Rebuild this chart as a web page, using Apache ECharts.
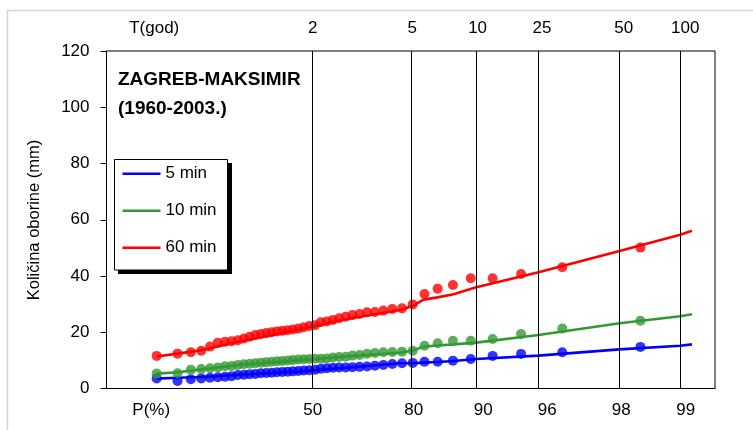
<!DOCTYPE html>
<html>
<head>
<meta charset="utf-8">
<script src="https://cdn.jsdelivr.net/npm/echarts@6/dist/echarts.min.js"></script>
<style>
html,body{margin:0;padding:0;background:#fff;}
#c{width:753px;height:430px;}
</style>
</head>
<body>
<div id="c"></div>
<script>
// Gumbel reduced variate of each plotting position
const plotPos = [-1.423,-1.183,-1.030,-0.910,-0.809,-0.719,-0.637,-0.561,-0.489,-0.420,-0.353,-0.288,-0.224,-0.162,-0.100,-0.039,0.022,0.084,0.145,0.207,0.270,0.334,0.399,0.466,0.534,0.604,0.676,0.751,0.829,0.911,0.997,1.088,1.185,1.288,1.400,1.523,1.658,1.810,1.985,2.190,2.442,2.769,3.243,4.142];
const obs5  = [3.6,2.7,3.3,3.6,3.8,4.0,4.2,4.4,4.8,4.9,5.1,5.2,5.4,5.5,5.6,5.8,5.9,6.0,6.1,6.2,6.4,6.5,6.7,7.0,7.2,7.4,7.5,7.5,7.6,7.7,7.8,8.1,8.4,8.7,9.0,9.1,9.5,9.5,9.9,10.5,11.6,12.3,12.9,14.8];
const obs10 = [5.3,5.4,6.7,6.9,7.2,7.5,7.9,8.0,8.4,8.6,8.8,9.0,9.2,9.3,9.5,9.7,9.8,10.0,10.1,10.3,10.4,10.5,10.6,10.6,10.7,11.0,11.2,11.3,11.7,11.9,12.4,12.6,12.9,13.0,13.1,13.4,15.2,16.1,17.0,17.0,17.6,19.4,21.3,24.1];
const obs60 = [11.6,12.4,12.9,13.4,14.9,16.3,16.6,16.8,17.2,17.8,18.4,19.0,19.4,19.7,20.0,20.3,20.5,20.7,21.0,21.3,21.8,22.2,22.5,23.6,23.8,24.4,25.0,25.5,26.1,26.5,27.1,27.2,27.7,28.3,28.5,29.9,33.6,35.5,36.8,39.2,39.2,40.7,43.1,50.1];

// fitted curves (vertices)
const fitX   = [-1.423,-1.183,-0.910,-0.485,0.228,0.746,1.379,1.525,1.647,1.808,1.992,2.253,2.970,3.902,4.600,4.735];
const fit5   = [3.5,3.8,4.1,4.9,6.0,7.4,9.0,9.0,9.2,9.4,9.8,10.5,11.7,13.9,15.2,15.7];
const fit10  = [5.3,5.8,6.8,8.3,10.0,11.4,12.7,13.5,14.9,15.3,15.7,16.3,19.0,23.2,25.7,26.4];
const fit60  = [11.4,12.4,13.6,16.6,21.0,24.6,27.9,29.4,31.6,32.4,33.5,36.0,41.3,48.9,54.7,56.1];

const seriesNames = ['5 min','10 min','60 min'];
const probGrid = [50,80,90,95,98,99];          // probability of each vertical line (%)
const pLabels  = ['50','80','90','96','98','99'];
const tLabels  = ['2','5','10','25','50','100'];
const yTicks   = [0,20,40,60,80,100,120];

const gum = p => -Math.log(-Math.log(p/100));
const gridX = probGrid.map(gum);
// label centres, slightly shifted to the right as in the picture
const botLabelPos = [-1.486,0.372,1.534,2.334,3.070,3.921,4.664];
const topLabelPos = [-1.451,0.372,1.517,2.269,3.010,3.951,4.658];
const botText = ['P(%)'].concat(pLabels);
const topText = ['T(god)'].concat(tLabels);
function pick(arr, txt){ return function(v){ let b=0,d=1e9; arr.forEach((a,i)=>{const e=Math.abs(a-v); if(e<d){d=e;b=i;}}); return txt[b]; }; }

const colors = ['#0000FF','#339933','#FF0000'];
const obs = [obs5,obs10,obs60];
const fits = [fit5,fit10,fit60];
const FONT = '"Liberation Sans", Arial, sans-serif';

const series = [];
series.push({
  type:'line', name:'grid', data:[], silent:true, z:1,
  markLine:{silent:true, symbol:['none','none'], label:{show:false},
    lineStyle:{color:'#000', width:1, type:'solid'},
    emphasis:{disabled:true},
    data: gridX.map(v=>({xAxis:v}))}
});
for(let s=0;s<3;s++){
  series.push({
    type:'line', name:seriesNames[s], z:3,
    data: fitX.map((x,i)=>[x,fits[s][i]]),
    showSymbol:false, symbol:'none',
    lineStyle:{color:colors[s], width:2.6}, itemStyle:{color:colors[s]},
    emphasis:{disabled:true}
  });
  series.push({
    type:'scatter', name:seriesNames[s]+' obs', z:4,
    data: plotPos.map((x,i)=>[x,obs[s][i]]),
    symbol:'circle', symbolSize:10,
    itemStyle:{color:colors[s]}, emphasis:{disabled:true}
  });
}

const chart = echarts.init(document.getElementById('c'), null, {renderer:'canvas'});
chart.setOption({
  animation:false,
  backgroundColor:'#fff',
  textStyle:{fontFamily:FONT},
  grid:{left:106.5, right:38, top:51, bottom:41.5, show:true, borderColor:'#000', borderWidth:1, backgroundColor:'transparent'},
  xAxis:[
    {type:'value', min:-2, max:5, position:'bottom',
     axisLine:{show:true, onZero:false, lineStyle:{color:'#000', width:1}}, axisTick:{show:false}, splitLine:{show:false},
     axisLabel:{customValues:botLabelPos, formatter:pick(botLabelPos,botText), margin:13, fontSize:17, color:'#000', fontFamily:FONT}},
    {type:'value', min:-2, max:5, position:'top',
     axisLine:{show:false, onZero:false}, axisTick:{show:false}, splitLine:{show:false},
     axisLabel:{customValues:topLabelPos, formatter:pick(topLabelPos,topText), margin:14, fontSize:17, color:'#000', fontFamily:FONT}}
  ],
  yAxis:{type:'value', min:yTicks[0], max:yTicks[yTicks.length-1], interval:20, position:'left',
    axisLine:{show:true, onZero:false, lineStyle:{color:'#000', width:1}},
    axisTick:{show:true, length:6, lineStyle:{color:'#000'}},
    splitLine:{show:false},
    axisLabel:{margin:17, fontSize:17, color:'#000', fontFamily:FONT}},
  title:{text:'ZAGREB-MAKSIMIR\n(1960-2003.)', left:118, top:65, padding:0,
    textStyle:{fontSize:19, fontWeight:'bold', color:'#000', lineHeight:29, fontFamily:FONT}},
  legend:{orient:'vertical', left:114, top:159, z:20,
    data:seriesNames.map(n=>({name:n, icon:'rect'})),
    itemWidth:38, itemHeight:2.5, itemGap:20,
    padding:[6.3,12,15,8.5],
    selectedMode:false,
    textStyle:{fontSize:17, color:'#000', lineHeight:17, fontFamily:FONT}},
  graphic:[
    {type:'rect', silent:true, z:-10, shape:{x:7.5, y:10.5, width:800, height:500},
     style:{fill:'none', stroke:'#d4d4d4', lineWidth:1.5}},
    {type:'rect', silent:true, z:10, shape:{x:118, y:163, width:114, height:111},
     style:{fill:'#000', stroke:'none'}},
    {type:'rect', silent:true, z:11, shape:{x:114.5, y:159.5, width:113, height:110.5},
     style:{fill:'#fff', stroke:'#000', lineWidth:1}},
    {type:'text', silent:true, x:34, y:220, rotation:Math.PI/2,
     style:{text:'Količina oborine (mm)', fontSize:16.5, fill:'#000', align:'center', verticalAlign:'middle', fontFamily:FONT}}
  ],
  series:series
});
</script>
</body>
</html>
